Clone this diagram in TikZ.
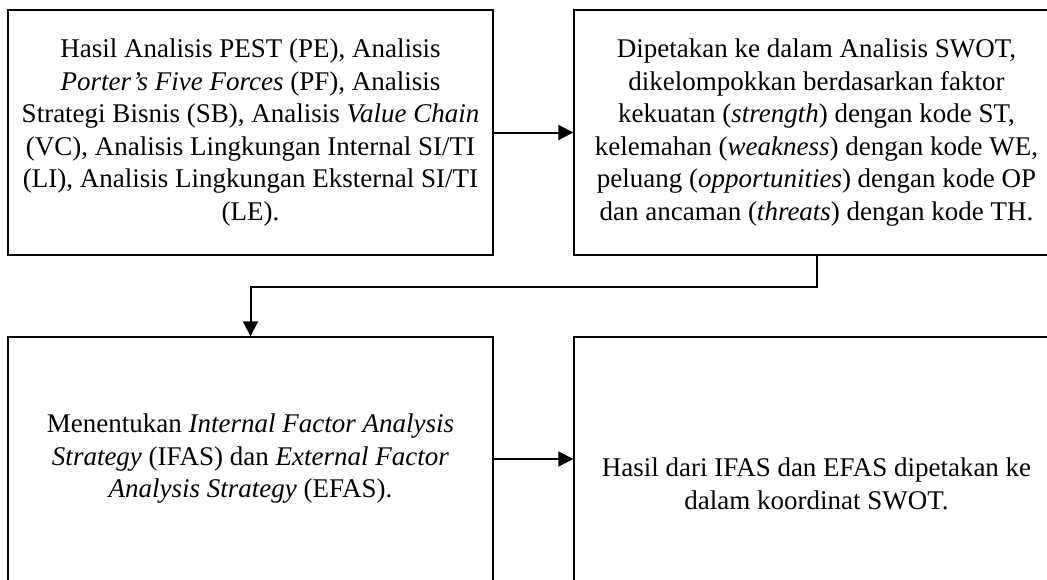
\documentclass[tikz,border=0pt]{standalone}
\usepackage{fontspec}
\setmainfont{Liberation Serif}
\usetikzlibrary{arrows.meta}
\begin{document}
\begin{tikzpicture}[x=1pt,y=-1pt,
  stepbox/.style={draw,line width=1.4pt,minimum width=485pt,align=center,
    inner sep=0pt,font=\fontsize{27}{32.5}\selectfont},
  link/.style={line width=2pt,-{Triangle[length=15pt,width=15pt]}}]
\useasboundingbox (0,0) rectangle (1047,579);
\clip (0,0) rectangle (1047,579);
\node[stepbox,minimum height=245pt] (pest) at (250.5,132.5)
  {Hasil Analisis PEST (PE), Analisis\\
   \textit{Porter’s Five Forces} (PF), Analisis\\
   Strategi Bisnis (SB), Analisis \textit{Value Chain}\\
   (VC), Analisis Lingkungan Internal SI/TI\\
   (LI), Analisis Lingkungan Eksternal SI/TI\\
   (LE).};
\node[stepbox,minimum height=245pt] (swot) at (816.5,132.5)
  {Dipetakan ke dalam Analisis SWOT,\\
   dikelompokkan berdasarkan faktor\\
   kekuatan (\textit{strength}) dengan kode ST,\\
   kelemahan (\textit{weakness}) dengan kode WE,\\
   peluang (\textit{opportunities}) dengan kode OP\\
   dan ancaman (\textit{threats}) dengan kode TH.};
\node[stepbox,minimum height=244pt] (ifas) at (250.5,459)
  {Menentukan \textit{Internal Factor Analysis}\\
   \textit{Strategy} (IFAS) dan \textit{External Factor}\\
   \textit{Analysis Strategy} (EFAS).};
\node[stepbox,minimum height=294pt] (coord) at (816.5,484)
  {Hasil dari IFAS dan EFAS dipetakan ke\\
   dalam koordinat SWOT.};
\draw[link] (pest.east) -- (swot.west);
\draw[link] (swot.south) -- ++(0,31) -| (ifas.north);
\draw[link] (ifas.east) -- (ifas.east -| coord.west);
\end{tikzpicture}
\end{document}
